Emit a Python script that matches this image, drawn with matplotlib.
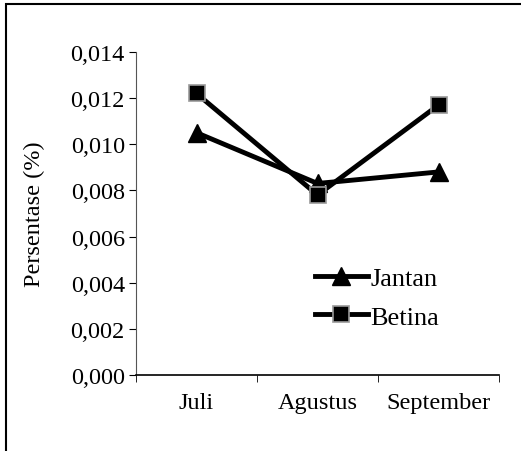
import matplotlib
matplotlib.use("Agg")
import matplotlib.pyplot as plt
from matplotlib.patches import Rectangle
from matplotlib.ticker import FuncFormatter

bulan = ["Juli", "Agustus", "September"]
jantan = [0.0105, 0.0083, 0.0088]
betina = [0.0122, 0.0078, 0.0117]
yticks = [0.000, 0.002, 0.004, 0.006, 0.008, 0.010, 0.012, 0.014]

plt.rcParams['font.family'] = ['Liberation Serif', 'DejaVu Serif']

fig = plt.figure(figsize=(5.21, 4.52), dpi=100)
ax = fig.add_axes([0.261, 0.168, 0.697, 0.715])

x = list(range(len(bulan)))
ax.plot(x, jantan, color='black', lw=3.5, marker='^', markersize=13, label='Jantan')
ax.plot(x, betina, color='black', lw=3.5, marker='s', markersize=12,
        markerfacecolor='black', markeredgecolor='#999999', markeredgewidth=1.2,
        label='Betina')

ax.set_xlim(-0.5, 2.5)
ax.set_ylim(0, 0.014)
ax.set_yticks(yticks)
ax.yaxis.set_major_formatter(FuncFormatter(lambda v, p: f"{v:.3f}".replace('.', ',')))
ax.set_xticks(x)
ax.set_xticklabels(bulan)
ax.set_xticks([-0.5, 0.5, 1.5, 2.5], minor=True)
ax.tick_params(axis='x', which='major', length=0, pad=12, labelsize=17.5)
ax.tick_params(axis='x', which='minor', length=5, direction='out', color='black')
ax.tick_params(axis='y', length=5, direction='out', labelsize=17.5, pad=3)

for s in ['top', 'right']:
    ax.spines[s].set_visible(False)
ax.spines['left'].set_color('#555555')
ax.spines['bottom'].set_color('black')
ax.spines['bottom'].set_linewidth(1.2)

ax.set_ylabel('Persentase (%)', fontsize=17.5, labelpad=18)

ax.legend(loc='center left', bbox_to_anchor=(0.493, 0.24), frameon=False,
          fontsize=19, handlelength=2.0, handletextpad=0.1, labelspacing=0.58,
          borderpad=0, borderaxespad=0)

fig.patches.append(Rectangle((0.011, -0.1), 1.2, 1.089, transform=fig.transFigure,
                             fill=False, edgecolor='black', linewidth=1.5))

fig.savefig('out.png', dpi=100)
